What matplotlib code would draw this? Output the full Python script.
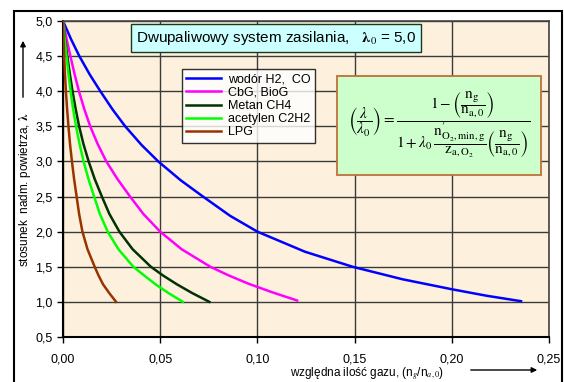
import matplotlib.pyplot as plt
from matplotlib.patches import Rectangle
from matplotlib.ticker import FuncFormatter, MultipleLocator

plt.rcParams['font.family'] = ['Liberation Sans', 'DejaVu Sans']
plt.rcParams['mathtext.fontset'] = 'stix'

# x = n_g/n_a,0, y = lambda
labels = ['wodór H2,  CO', 'CbG, BioG', 'Metan CH4', 'acetylen C2H2', 'LPG']
colors = ['#0000FF', '#FF00FF', '#003300', '#00FF00', '#993300']

x_h2 = [0, 0.0042, 0.0084, 0.0138, 0.0192, 0.0256, 0.032, 0.0405, 0.049, 0.0605, 0.072,
        0.086, 0.100, 0.1245, 0.149, 0.1745, 0.200, 0.2178, 0.2356]
y_h2 = [5.0, 4.737, 4.5, 4.236, 4.0, 3.736, 3.5, 3.232, 3.0, 2.733, 2.5,
        2.225, 2.0, 1.714, 1.5, 1.323, 1.18, 1.088, 1.01]

x_cbg = [0, 0.0018, 0.0038, 0.0059, 0.0082, 0.0109, 0.014, 0.0178, 0.0223, 0.028, 0.0345,
         0.0414, 0.050, 0.061, 0.0758, 0.085, 0.0953, 0.1073, 0.1204]
y_cbg = [5.0, 4.75, 4.5, 4.25, 4.0, 3.75, 3.5, 3.25, 3.0, 2.75, 2.5,
         2.25, 2.0, 1.75, 1.5, 1.38, 1.26, 1.14, 1.02]

x_ch4 = [0, 0.001, 0.0022, 0.0035, 0.0049, 0.0065, 0.0083, 0.0105, 0.0132, 0.0163, 0.020,
         0.0239, 0.029, 0.0358, 0.0452, 0.0515, 0.0586, 0.0665, 0.0753]
y_ch4 = [5.0, 4.75, 4.5, 4.25, 4.0, 3.75, 3.5, 3.25, 3.0, 2.75, 2.5,
         2.25, 2.0, 1.75, 1.5, 1.375, 1.25, 1.125, 1.0]

x_c2h2 = [0, 0.0008, 0.0018, 0.0028, 0.0039, 0.0052, 0.0067, 0.0085, 0.0106, 0.0131, 0.016,
          0.019, 0.023, 0.0285, 0.0362, 0.0418, 0.0476, 0.0543, 0.0617]
y_c2h2 = [5.0, 4.75, 4.5, 4.25, 4.0, 3.75, 3.5, 3.25, 3.0, 2.75, 2.5,
          2.25, 2.0, 1.75, 1.5, 1.375, 1.25, 1.125, 1.0]

x_lpg = [0, 0.00025, 0.0006, 0.001, 0.0015, 0.0021, 0.0028, 0.0036, 0.0046, 0.0057, 0.007,
         0.0083, 0.010, 0.0126, 0.0163, 0.0183, 0.0206, 0.0238, 0.0273]
y_lpg = [5.0, 4.75, 4.5, 4.25, 4.0, 3.75, 3.5, 3.25, 3.0, 2.75, 2.5,
         2.25, 2.0, 1.75, 1.5, 1.375, 1.25, 1.125, 1.0]

series = [(x_h2, y_h2), (x_cbg, y_cbg), (x_ch4, y_ch4), (x_c2h2, y_c2h2), (x_lpg, y_lpg)]

fig = plt.figure(figsize=(5.64, 3.82), dpi=100)
ax = fig.add_axes([63/564, 1-337/382, (549-63)/564, (337-21)/382])
ax.set_facecolor('#FDF1DE')

# ramka wokol calego wykresu
fig.patches.append(Rectangle((14/564, -0.05), (562-14)/564, 1.05-11/382,
                             transform=fig.transFigure, fill=False,
                             edgecolor='black', linewidth=1.5))

for (xs, ys), lab, c in zip(series, labels, colors):
    ax.plot(xs, ys, color=c, lw=1.8, label=lab, zorder=3, solid_joinstyle='round')

ax.set_xlim(0, 0.25)
ax.set_ylim(0.5, 5.0)
ax.xaxis.set_major_locator(MultipleLocator(0.05))
ax.yaxis.set_major_locator(MultipleLocator(0.5))
ax.xaxis.set_major_formatter(FuncFormatter(lambda v, p: f'{v:.2f}'.replace('.', ',')))
ax.yaxis.set_major_formatter(FuncFormatter(lambda v, p: f'{v:.1f}'.replace('.', ',')))
ax.tick_params(labelsize=9, direction='out', length=4, width=1)
ax.tick_params(axis='x', pad=8)
ax.grid(True, color='#3a3a3a', lw=1.0, zorder=1)
ax.set_axisbelow(True)
for s in ['left', 'bottom']:
    ax.spines[s].set_linewidth(1.5)
for s in ['top', 'right']:
    ax.spines[s].set_color('#444444')
    ax.spines[s].set_linewidth(1.2)

leg = ax.legend(loc='upper left', bbox_to_anchor=((182-63)/486, 1-(69-21)/316),
                borderaxespad=0, fontsize=9, frameon=True, fancybox=False,
                edgecolor='black', handlelength=2.8, handletextpad=0.5,
                borderpad=0.35, labelspacing=0.1)
leg.get_frame().set_linewidth(1.0)
leg.set_zorder(5)

fig.text(136/564, 1-38/382, r'Dwupaliwowy system zasilania,   $\mathbf{\lambda}_0$ = 5,0',
         fontsize=11, va='center', ha='left',
         bbox=dict(boxstyle='square,pad=0.35', facecolor='#CCFFFF', edgecolor='#1a3a1a', lw=1))

# ramka ze wzorem
fig.patches.append(Rectangle((337/564, 1-175/382), (541-337)/564, (175-76)/382,
                             transform=fig.transFigure, facecolor='#CCFFCC',
                             edgecolor='#C0703A', linewidth=1.3, zorder=4))
ng = r'\dfrac{\mathrm{n_g}}{\mathrm{n_{a,0}}}'
formula = (r'$\left(\dfrac{\lambda}{\lambda_0}\right)=\dfrac{1-\left(' + ng + r'\right)}'
           r'{1+\lambda_0\,\dfrac{\mathrm{n}^{\prime}_{\mathrm{O_2,min,g}}}{\mathrm{z_{a,O_2}}}\left('
           + ng + r'\right)}$')
fig.text(439/564, 1-125/382, formula, fontsize=11, ha='center', va='center', zorder=5)

fig.text(25/564, 1-190/382, r'stosunek  nadm. powietrza, $\mathbf{\lambda}$', rotation=90,
         fontsize=8.5, ha='center', va='center')
ax.annotate('', xy=(23/564, 1-38/382), xytext=(23/564, 1-100/382), xycoords='figure fraction',
            arrowprops=dict(arrowstyle='-|>', color='black', lw=1, mutation_scale=8))

fig.text(290/564, 1-374/382, r'względna ilość gazu, (n$_g$/n$_{a,0}$)', fontsize=8.5,
         ha='left', va='center')
ax.annotate('', xy=(540/564, 1-370/382), xytext=(468/564, 1-370/382), xycoords='figure fraction',
            arrowprops=dict(arrowstyle='-|>', color='black', lw=1, mutation_scale=8))

fig.savefig('out.png', dpi=100)
